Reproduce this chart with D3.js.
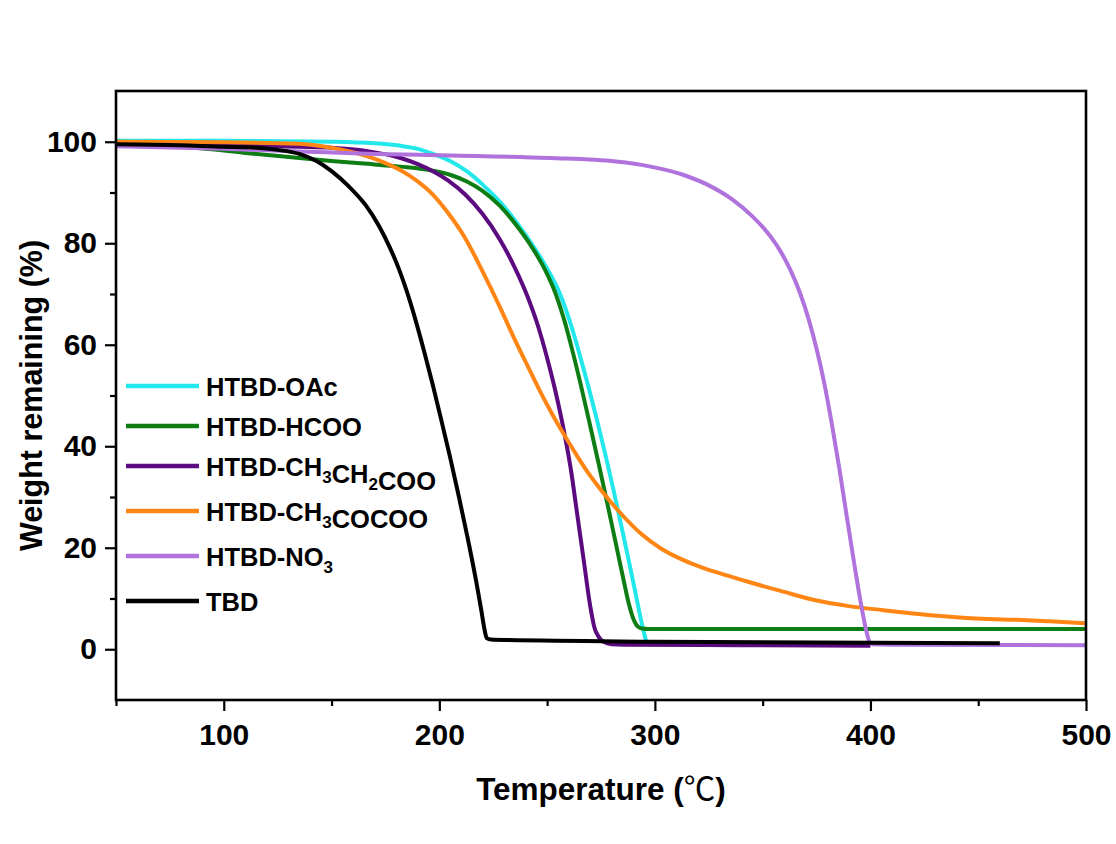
<!DOCTYPE html>
<html>
<head>
<meta charset="utf-8">
<script src="https://cdn.jsdelivr.net/npm/d3@7"></script>
<style>
  body { margin: 0; background: #fff; }
  svg { display: block; font-family: "Liberation Sans", Arial, sans-serif; font-weight: bold; }
</style>
</head>
<body>
<svg id="chart" width="1116" height="844"></svg>
<script>
// TGA curves: [temperature (°C), weight remaining (%)]
const oacCurve = [[50,100.2],[100,100.2],[150,100],[170,99.7],[182,99.2],[190,98.6],[197,97.6],[205,96.2],[213,94.1],[220,91.6],[228,88.2],[236,84],[243,79.8],[250,75],[256,70],[261,64],[265,58.2],[269,52],[273,45.4],[277,38.4],[281,31],[285,23.2],[289,15.2],[292,9],[294.5,4],[296,1.5]];
const hcooCurve = [[50,99.5],[70,99.2],[89,98.7],[110,97.8],[135,96.8],[150,96.2],[165,95.7],[182,95.1],[197,94.3],[205,93.5],[213,92.1],[220,90.3],[228,87.4],[236,83.4],[243,79.2],[249,74.8],[254,70],[258,64.8],[262,58.4],[266,51.4],[270,44],[274,36.4],[278,28.6],[282,20.6],[285.5,13.6],[288,8.8],[290,6],[292,4.5],[294,4.1],[297,4],[400,4],[500,4]];
const propCurve = [[50,99.6],[100,99.3],[135,99],[150,98.8],[166,98.2],[182,96.8],[190,95.6],[197,94.2],[204,92.4],[212,89.6],[220,85.8],[228,80.8],[235,75.2],[241,69.4],[246,63.4],[250,57.4],[254,50.6],[258,42.6],[261,35.5],[264,26.5],[267,17.5],[270,8.5],[272,4.2],[274,2.4],[276,1.5],[280,1],[286,0.9],[340,0.8],[400,0.7]];
const pyruvCurve = [[50,100],[100,99.9],[135,99.6],[150,98.8],[166,97.2],[175,95.8],[182,94.4],[189,92.5],[197,89.6],[204,86],[212,81],[220,74.5],[228,67.5],[235,61],[241,55.8],[247,50.6],[252,46.6],[257,42.9],[262,39.4],[268,35.4],[275,31.4],[284.5,26.6],[294,22.6],[303,19.8],[313,17.6],[322,16.1],[333,14.6],[344,13.2],[360,11.3],[375,9.6],[390,8.5],[406,7.7],[421,7],[437,6.4],[452,6],[468,5.8],[483,5.5],[500,5.1]];
const nitrateCurve = [[50,99.1],[100,98.6],[135,98.1],[170,97.6],[205,97.3],[251,96.8],[282,96.1],[298,95.1],[313,93.5],[325,91.4],[336,88.6],[345,85.4],[352,82.2],[358,78.6],[363,74.6],[367.5,70],[371.5,64.8],[375,59.2],[378.5,52.6],[382,44.6],[385.5,35.8],[389,26.2],[392.5,16.8],[395.5,9.2],[398,3.8],[399.6,1.4],[401,1],[410,0.9],[500,0.8]];
const tbdCurve = [[50,99.5],[80,99.3],[100,99],[112,98.9],[125,98.4],[135,97.6],[143,96.2],[150,94.2],[158,91.2],[166,87.4],[172,83.4],[177,79.2],[181,75.2],[185,70.4],[189,64.8],[193,58.6],[197,52],[201,45],[205,37.8],[209,30.2],[213,22.2],[217,13.6],[219.5,7.6],[221,3.8],[222,2.2],[224,1.9],[232,1.8],[300,1.5],[400,1.3],[460,1.2]];

const seriesNames = ['HTBD-OAc', 'HTBD-HCOO', 'HTBD-CH3CH2COO', 'HTBD-CH3COCOO', 'HTBD-NO3', 'TBD'];
const seriesData = [oacCurve, hcooCurve, propCurve, pyruvCurve, nitrateCurve, tbdCurve];
const seriesColors = ['#22e8ec', '#0e7d14', '#5c0a80', '#ff8614', '#b072dc', '#000000'];

const xMajorTicks = [100, 200, 300, 400, 500];
const xMinorTicks = [50, 150, 250, 350, 450];
const yMajorTicks = [0, 20, 40, 60, 80, 100];
const yMinorTicks = [10, 30, 50, 70, 90];

const xTitle = 'Temperature (';
const yTitle = 'Weight remaining (%)';

// plot box
const plotLeft = 116, plotRight = 1086, plotTop = 91, plotBottom = 700;

const svg = d3.select('#chart');

const x = d3.scaleLinear().domain([50, 500]).range([plotLeft, plotRight]);
const y = d3.scaleLinear().domain([-10, 110]).range([plotBottom, plotTop]);

svg.append('defs').append('clipPath').attr('id', 'plot-clip')
    .append('rect')
    .attr('x', plotLeft).attr('y', plotTop)
    .attr('width', plotRight - plotLeft).attr('height', plotBottom - plotTop);

// curves
const line = d3.line()
    .x(d => x(d[0]))
    .y(d => y(d[1]))
    .curve(d3.curveMonotoneX);

svg.append('g').attr('clip-path', 'url(#plot-clip)')
    .selectAll('path')
    .data(seriesData)
    .enter()
    .append('path')
    .attr('d', line)
    .attr('fill', 'none')
    .attr('stroke', (d, i) => seriesColors[i])
    .attr('stroke-width', 4)
    .attr('stroke-linejoin', 'round');

// axes
function styleAxis(g, fontSize) {
    g.select('.domain').remove();
    g.selectAll('line').attr('stroke', '#000').attr('stroke-width', 2.2);
    g.selectAll('text')
        .attr('fill', '#000')
        .style('font-size', fontSize + 'px')
        .style('font-family', '"Liberation Sans", Arial, sans-serif')
        .style('font-weight', 'bold');
}

const xAxis = svg.append('g')
    .attr('transform', `translate(0,${plotBottom})`)
    .call(d3.axisBottom(x).tickValues(xMajorTicks).tickSize(11).tickFormat(d3.format('d')));
styleAxis(xAxis, 30);
xAxis.selectAll('text').attr('y', 24).attr('dy', '0.71em');

svg.append('g')
    .attr('transform', `translate(0,${plotBottom})`)
    .call(d3.axisBottom(x).tickValues(xMinorTicks).tickSize(6).tickFormat(''))
    .call(g => styleAxis(g, 30));

const yAxis = svg.append('g')
    .attr('transform', `translate(${plotLeft},0)`)
    .call(d3.axisLeft(y).tickValues(yMajorTicks).tickSize(11).tickPadding(8).tickFormat(d3.format('d')));
styleAxis(yAxis, 30);

svg.append('g')
    .attr('transform', `translate(${plotLeft},0)`)
    .call(d3.axisLeft(y).tickValues(yMinorTicks).tickSize(6).tickFormat(''))
    .call(g => styleAxis(g, 30));

// frame
svg.append('rect')
    .attr('x', plotLeft).attr('y', plotTop)
    .attr('width', plotRight - plotLeft).attr('height', plotBottom - plotTop)
    .attr('fill', 'none')
    .attr('stroke', '#000')
    .attr('stroke-width', 2.6);

// axis titles
const xt = svg.append('text')
    .attr('x', (plotLeft + plotRight) / 2)
    .attr('y', 800)
    .attr('text-anchor', 'middle')
    .style('font-size', '31.5px');
xt.append('tspan').text(xTitle);
xt.append('tspan')
    .style('font-family', '"Noto Sans CJK SC", "DejaVu Sans", sans-serif')
    .style('font-weight', 'normal')
    .text('℃');
xt.append('tspan').text(')');

svg.append('text')
    .attr('transform', `translate(42,${(plotTop + plotBottom) / 2}) rotate(-90)`)
    .attr('text-anchor', 'middle')
    .style('font-size', '30.5px')
    .text(yTitle);

// legend
const legend = svg.append('g');
let rowY = 386;
seriesNames.forEach((name, i) => {
    legend.append('line')
        .attr('x1', 126).attr('x2', 199)
        .attr('y1', rowY).attr('y2', rowY)
        .attr('stroke', seriesColors[i])
        .attr('stroke-width', 4.5);

    const label = legend.append('text')
        .attr('x', 206)
        .attr('y', rowY + 9.5)
        .style('font-size', '25.5px');

    // digits are chemical subscripts
    const parts = name.match(/\d+|\D+/g);
    parts.forEach(p => {
        if (/^\d+$/.test(p)) {
            label.append('tspan').attr('dy', 7).style('font-size', '17px').text(p);
            label.append('tspan').attr('dy', -7).text('');
        } else {
            label.append('tspan').text(p);
        }
    });

    rowY += /\d/.test(name) ? 45 : 40;
});
</script>
</body>
</html>
